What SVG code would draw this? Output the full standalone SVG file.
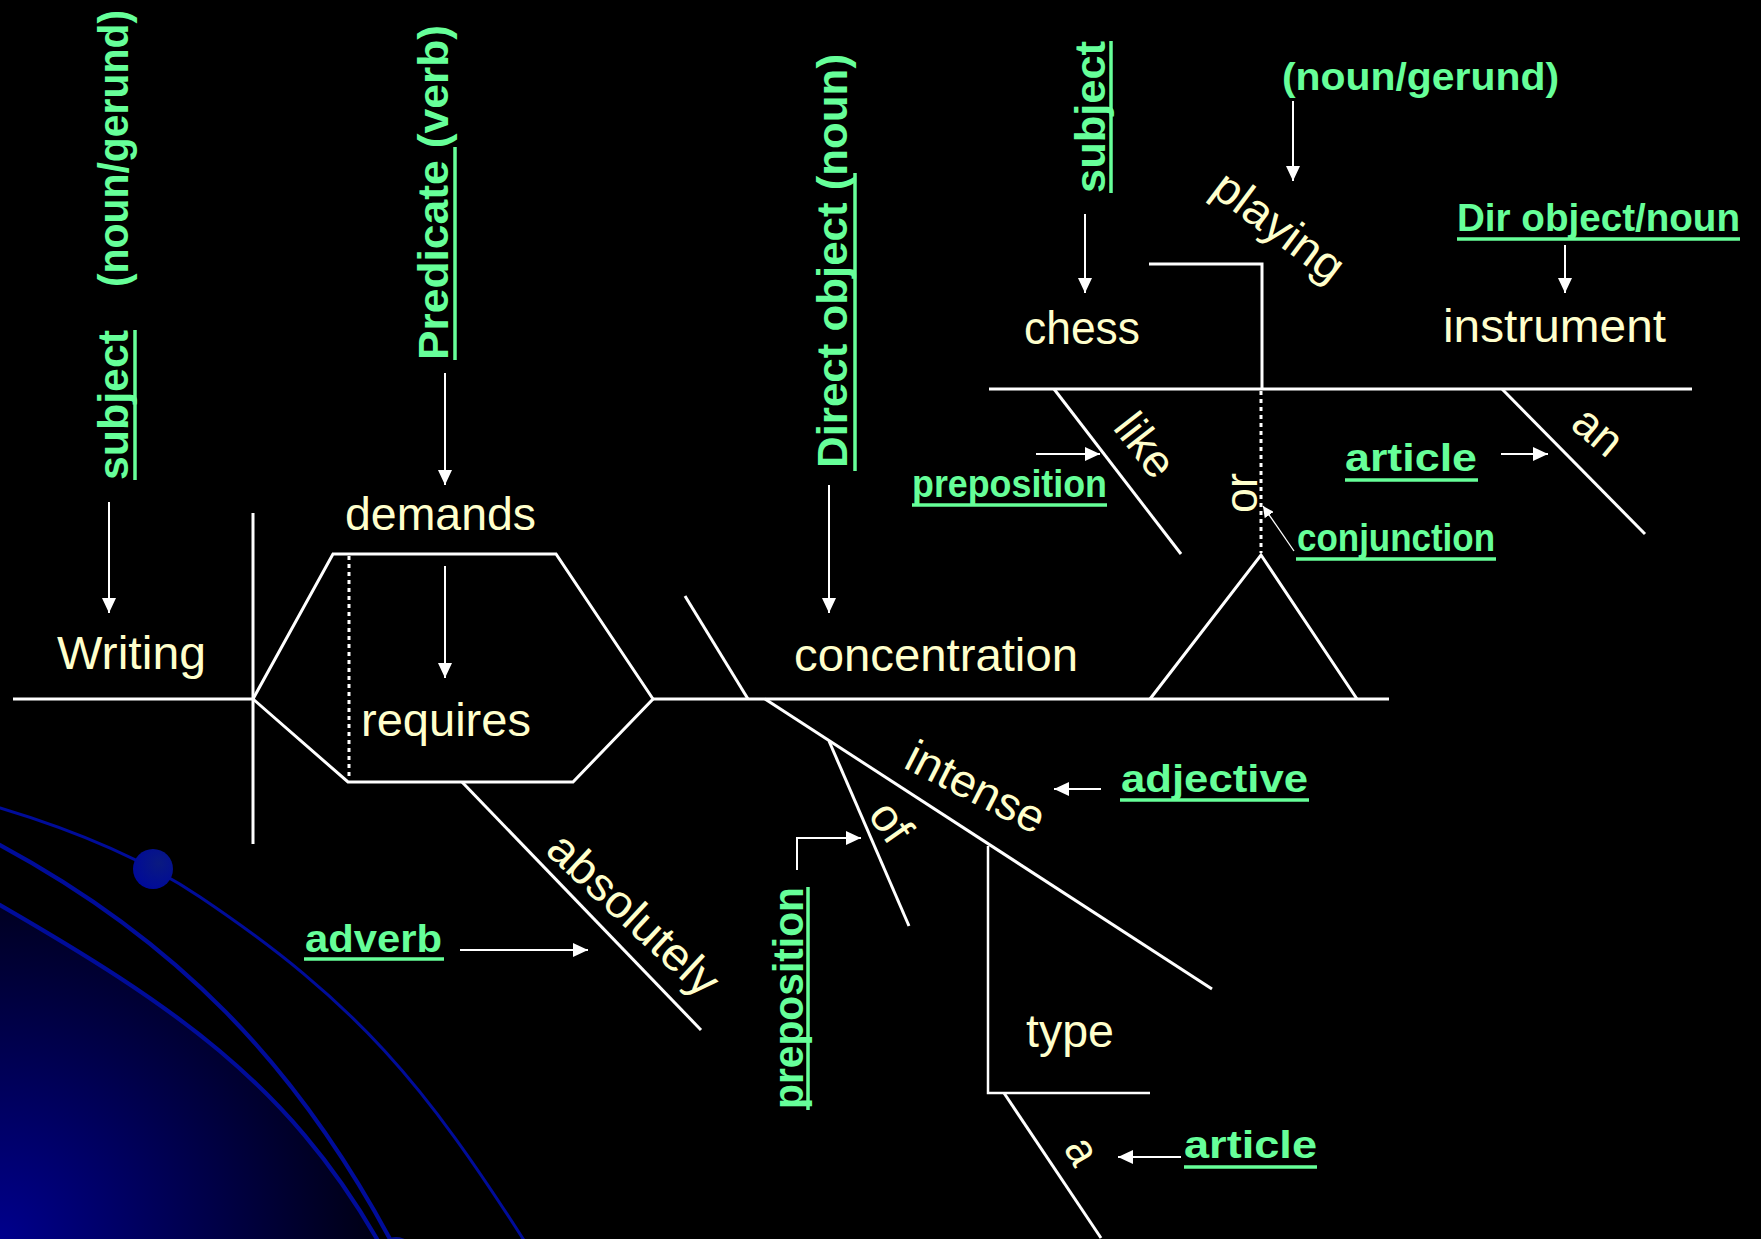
<svg xmlns="http://www.w3.org/2000/svg" width="1761" height="1239" viewBox="0 0 1761 1239">
<defs>
<style>
.w{font-family:"Liberation Sans","Arial",sans-serif;font-size:46px;fill:#FFFFCC;}
.g{font-family:"Liberation Sans","Arial",sans-serif;font-weight:bold;font-size:38px;fill:#66FF99;}
.gv{font-family:"Liberation Sans","Arial",sans-serif;font-weight:bold;font-size:42px;fill:#66FF99;}
.ul{stroke:#66FF99;stroke-width:3.5;fill:none;}
.ln{stroke:#FFFFFF;stroke-width:3;fill:none;stroke-linejoin:miter;}
.thin{stroke:#FFFFFF;stroke-width:2.5;fill:none;}
.dot{stroke:#FFFFFF;stroke-width:3;stroke-dasharray:4 4;fill:none;}
.ar{stroke:#FFFFFF;stroke-width:2;fill:none;marker-end:url(#ah);}
.arT{stroke:#FFFFFF;stroke-width:1.3;fill:none;marker-end:url(#ahs);}
.crv{stroke:#000C99;fill:none;stroke-linecap:round;}
</style>
<marker id="ah" markerUnits="userSpaceOnUse" markerWidth="16" markerHeight="14" refX="15" refY="7" orient="auto"><path d="M0,0 L15,7 L0,14 z" fill="#FFFFFF"/></marker>
<marker id="ahs" markerUnits="userSpaceOnUse" markerWidth="12" markerHeight="11" refX="11" refY="5.5" orient="auto"><path d="M0,0 L11,5.5 L0,11 z" fill="#FFFFFF"/></marker>
<radialGradient id="bg" gradientUnits="userSpaceOnUse" cx="0" cy="1239" r="440"><stop offset="0" stop-color="#00008C"/><stop offset="1" stop-color="#000000"/></radialGradient>
<radialGradient id="ball" cx="0.65" cy="0.35" r="0.7"><stop offset="0" stop-color="#0A1A80"/><stop offset="1" stop-color="#000A99"/></radialGradient>
</defs>
<rect x="0" y="0" width="1761" height="1239" fill="#000000"/>
<g id="decoration">
<path d="M0,905 C173,1005 287,1083 377,1239 L0,1239 Z" fill="url(#bg)"/>
<path class="crv" stroke-width="3" d="M0,808 C70,829 139,856 200,897 C358,1003 425,1085 527,1245"/>
<path class="crv" stroke-width="4.2" d="M0,845 C176,940 295,1063 390,1239"/>
<path class="crv" stroke-width="4.2" d="M0,905 C173,1005 287,1083 377,1239"/>
<circle cx="153" cy="869" r="20" fill="url(#ball)"/>
<circle cx="396" cy="1256" r="19" fill="url(#ball)"/>
</g>
<g id="connectors">
<path class="ln" d="M13,699 L253,699"/>
<path class="ln" d="M653,699 L1389,699"/>
<path class="ln" d="M253,513 L253,844"/>
<path class="ln" d="M253,699 L333,554 L556,554 L653,699 L573,782 L348,782 Z"/>
<path class="dot" d="M349,556 L349,780"/>
<path class="ln" d="M462,782 L701,1030"/>
<path class="ln" d="M685,596 L748,699"/>
<path class="ln" d="M765,699 L1212,989"/>
<path class="ln" d="M829,741 L909,926"/>
<path class="thin" d="M988,846 L988,1093 L1150,1093"/>
<path class="ln" d="M1004,1093 L1101,1238"/>
<path class="ln" d="M1150,699 L1261,555 L1357,699"/>
<path class="dot" d="M1261,391 L1261,553"/>
<path class="ln" d="M989,389 L1692,389"/>
<path class="ln" d="M1149,264 L1262,264 L1262,389"/>
<path class="ln" d="M1054,389 L1181,554"/>
<path class="ln" d="M1502,389 L1645,534"/>
<path class="ar" d="M109,502 L109,613"/>
<path class="ar" d="M445,373 L445,485"/>
<path class="ar" d="M445,566 L445,678"/>
<path class="ar" d="M829,485 L829,613"/>
<path class="ar" d="M1085,214 L1085,293"/>
<path class="ar" d="M1293,101 L1293,181"/>
<path class="ar" d="M1565,245 L1565,293"/>
<path class="ar" d="M1036,454 L1100,454"/>
<path class="ar" d="M1501,454 L1548,454"/>
<path class="arT" d="M1294,551 L1263,506"/>
<path class="ar" d="M1101,789 L1054,789"/>
<path class="ar" d="M797,870 L797,838 L861,838"/>
<path class="ar" d="M1181,1157 L1118,1157"/>
<path class="ar" d="M460,950 L588,950"/>
</g>
<g id="node-writing">
<text class="w" x="57" y="669" textLength="149" lengthAdjust="spacingAndGlyphs">Writing</text>
<text class="gv" transform="translate(128,480) rotate(-90)" textLength="150" lengthAdjust="spacingAndGlyphs">subject</text>
<line class="ul" x1="135" y1="330" x2="135" y2="480"/>
<text class="gv" transform="translate(128,287) rotate(-90)" textLength="277" lengthAdjust="spacingAndGlyphs">(noun/gerund)</text>
</g>
<g id="node-demands">
<text class="w" x="345" y="530" textLength="191" lengthAdjust="spacingAndGlyphs">demands</text>
<text class="gv" transform="translate(448,360) rotate(-90)" textLength="335" lengthAdjust="spacingAndGlyphs">Predicate (verb)</text>
<line class="ul" x1="455" y1="147" x2="455" y2="360"/>
</g>
<g id="node-requires">
<text class="w" x="361" y="736" textLength="170" lengthAdjust="spacingAndGlyphs">requires</text>
</g>
<g id="node-absolutely">
<text class="w" transform="translate(544,852) rotate(43)" textLength="216" lengthAdjust="spacingAndGlyphs">absolutely</text>
<text class="g" x="305" y="952" textLength="137" lengthAdjust="spacingAndGlyphs">adverb</text>
<line class="ul" x1="304" y1="959" x2="444" y2="959"/>
</g>
<g id="node-concentration">
<text class="w" x="794" y="671" textLength="284" lengthAdjust="spacingAndGlyphs">concentration</text>
<text class="gv" transform="translate(847,468) rotate(-90)" textLength="414" lengthAdjust="spacingAndGlyphs">Direct object (noun)</text>
<line class="ul" x1="855" y1="173" x2="855" y2="471"/>
</g>
<g id="node-intense">
<text class="w" transform="translate(902,767) rotate(27)" textLength="150" lengthAdjust="spacingAndGlyphs">intense</text>
<text class="g" x="1121" y="792" textLength="187" lengthAdjust="spacingAndGlyphs">adjective</text>
<line class="ul" x1="1120" y1="800" x2="1309" y2="800"/>
</g>
<g id="node-of">
<text class="w" transform="translate(867,815) rotate(55)" textLength="39" lengthAdjust="spacingAndGlyphs">of</text>
<text class="gv" transform="translate(803,1109) rotate(-90)" textLength="222" lengthAdjust="spacingAndGlyphs">preposition</text>
<line class="ul" x1="808" y1="887" x2="808" y2="1110"/>
</g>
<g id="node-type">
<text class="w" x="1026" y="1047" textLength="88" lengthAdjust="spacingAndGlyphs">type</text>
</g>
<g id="node-a">
<text class="w" transform="translate(1063,1148) rotate(60)" textLength="24" lengthAdjust="spacingAndGlyphs">a</text>
<text class="g" x="1184" y="1158" textLength="133" lengthAdjust="spacingAndGlyphs">article</text>
<line class="ul" x1="1184" y1="1167" x2="1317" y2="1167"/>
</g>
<g id="node-chess">
<text class="w" x="1024" y="344" textLength="116" lengthAdjust="spacingAndGlyphs">chess</text>
<text class="gv" transform="translate(1105,193) rotate(-90)" textLength="152" lengthAdjust="spacingAndGlyphs">subject</text>
<line class="ul" x1="1111" y1="41" x2="1111" y2="193"/>
</g>
<g id="node-playing">
<text class="w" transform="translate(1209,193) rotate(37)" textLength="152" lengthAdjust="spacingAndGlyphs">playing</text>
<text class="g" x="1282" y="90" textLength="277" lengthAdjust="spacingAndGlyphs">(noun/gerund)</text>
</g>
<g id="node-instrument">
<text class="w" x="1443" y="342" textLength="223" lengthAdjust="spacingAndGlyphs">instrument</text>
<text class="g" x="1457" y="231" textLength="283" lengthAdjust="spacingAndGlyphs">Dir object/noun</text>
<line class="ul" x1="1457" y1="239" x2="1740" y2="239"/>
</g>
<g id="node-like">
<text class="w" transform="translate(1112,428) rotate(52)" textLength="68" lengthAdjust="spacingAndGlyphs">like</text>
<text class="g" x="912" y="497" textLength="195" lengthAdjust="spacingAndGlyphs">preposition</text>
<line class="ul" x1="912" y1="505" x2="1107" y2="505"/>
</g>
<g id="node-or">
<text class="w" transform="translate(1257,513) rotate(-90)" textLength="40" lengthAdjust="spacingAndGlyphs">or</text>
<text class="g" x="1297" y="551" textLength="198" lengthAdjust="spacingAndGlyphs">conjunction</text>
<line class="ul" x1="1296" y1="559" x2="1496" y2="559"/>
</g>
<g id="node-an">
<text class="w" transform="translate(1569,427) rotate(40)" textLength="50" lengthAdjust="spacingAndGlyphs">an</text>
<text class="g" x="1345" y="471" textLength="132" lengthAdjust="spacingAndGlyphs">article</text>
<line class="ul" x1="1345" y1="480" x2="1478" y2="480"/>
</g>
</svg>
